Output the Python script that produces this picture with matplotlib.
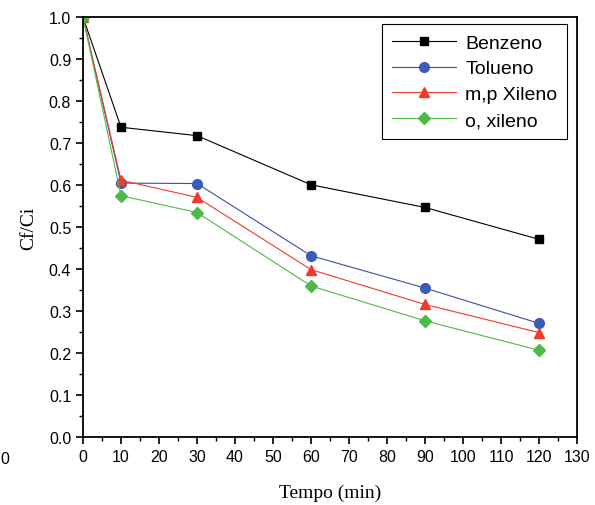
import matplotlib.pyplot as plt
from matplotlib.ticker import MultipleLocator

tempo = [0, 10, 30, 60, 90, 120]
benzeno = [1.0, 0.738, 0.718, 0.601, 0.547, 0.471]
tolueno = [1.0, 0.605, 0.604, 0.432, 0.355, 0.271]
mp_xileno = [1.0, 0.612, 0.571, 0.399, 0.316, 0.249]
o_xileno = [1.0, 0.575, 0.535, 0.360, 0.277, 0.207]

fig = plt.figure(figsize=(5.95, 5.06), dpi=100)
ax = fig.add_axes([0.1395, 0.134, 0.8305, 0.830])

ax.plot(tempo, benzeno, color='black', lw=0.8, marker='s', ms=6, label='Benzeno')
ax.plot(tempo, tolueno, color='#3b4fa8', lw=0.8, marker='o', ms=7, mfc='#3b5bb5', mec='#3b5bb5', label='Tolueno')
ax.plot(tempo, mp_xileno, color='#f03a2e', lw=0.8, marker='^', ms=7, label='m,p Xileno')
ax.plot(tempo, o_xileno, color='#4cbb45', lw=0.8, marker='D', ms=6, label='o, xileno')

ax.set_xlim(0, 130)
ax.set_ylim(0, 1.0)
ax.xaxis.set_major_locator(MultipleLocator(10))
ax.xaxis.set_minor_locator(MultipleLocator(5))
ax.yaxis.set_major_locator(MultipleLocator(0.1))
ax.yaxis.set_minor_locator(MultipleLocator(0.05))
ax.tick_params(which='major', length=5, width=1.2, labelsize=11.5, direction='out')
ax.tick_params(which='minor', length=3, width=1.0, direction='out')
for lab in ax.get_xticklabels() + ax.get_yticklabels():
    lab.set_family('Liberation Sans')
ax.yaxis.set_major_formatter(plt.FuncFormatter(lambda v, p: '%.1f' % v))
for s in ax.spines.values():
    s.set_linewidth(1.3)

ax.set_xlabel('Tempo (min)', family='Liberation Serif', fontsize=14, labelpad=14)
ax.set_ylabel('Cf/Ci', family='Liberation Serif', fontsize=14, labelpad=8)

leg = ax.legend(loc='upper right', bbox_to_anchor=(0.98, 0.983), borderaxespad=0,
                prop={'family': 'Liberation Sans', 'size': 14},
                fancybox=False, edgecolor='black', framealpha=1, handlelength=3.3,
                labelspacing=0.42, borderpad=0.5, handletextpad=0.5)
leg.get_frame().set_linewidth(0.8)

fig.text(0.001, 1 - 460 / 506, '0', family='Liberation Sans', fontsize=11.5, va='center')

fig.savefig('out.png', dpi=100)
